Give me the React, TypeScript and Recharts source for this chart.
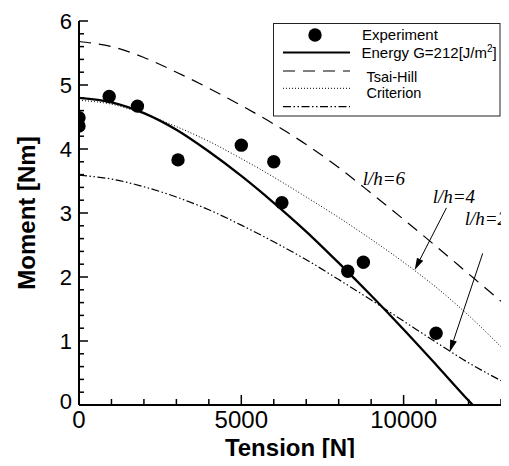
import React from 'react';
import {
  ComposedChart,
  Line,
  Scatter,
  XAxis,
  YAxis,
  ReferenceDot,
  ReferenceLine,
  Legend,
  Label,
} from 'recharts';

// ---------- data ----------
const tensionGrid = [0, 1000, 2000, 3000, 4000, 5000, 6000, 7000, 8000, 9000, 10000, 11000, 12000, 13000];
const energyTension = [0, 1000, 2000, 3000, 4000, 5000, 6000, 7000, 8000, 9000, 10000, 11000, 12000, 12130];
const energyMoment = [4.8, 4.73, 4.56, 4.3, 3.96, 3.58, 3.16, 2.71, 2.22, 1.71, 1.18, 0.63, 0.07, 0];
const tsaiHill6 = [5.68, 5.6, 5.43, 5.2, 4.95, 4.68, 4.39, 4.07, 3.71, 3.31, 2.9, 2.48, 2.05, 1.62];
const tsaiHill4 = [4.76, 4.7, 4.55, 4.35, 4.12, 3.85, 3.56, 3.25, 2.93, 2.59, 2.23, 1.84, 1.4, 0.91];
const tsaiHill2 = [3.59, 3.53, 3.41, 3.25, 3.05, 2.81, 2.55, 2.27, 1.96, 1.64, 1.31, 0.98, 0.66, 0.38];
const expTension = [0, 0, 930, 1800, 3050, 5000, 6000, 6250, 8280, 8760, 11000];
const expMoment = [4.49, 4.36, 4.82, 4.67, 3.83, 4.06, 3.8, 3.16, 2.09, 2.23, 1.12];

const xTicks = [0, 1000, 2000, 3000, 4000, 5000, 6000, 7000, 8000, 9000, 10000, 11000, 12000, 13000];
const xTickLabels = [0, 5000, 10000];
const yTicks = [0, 0.2, 0.4, 0.6, 0.8, 1, 1.2, 1.4, 1.6, 1.8, 2, 2.2, 2.4, 2.6, 2.8, 3, 3.2, 3.4, 3.6, 3.8, 4, 4.2, 4.4, 4.6, 4.8, 5, 5.2, 5.4, 5.6, 5.8, 6];
const yTickLabels = [0, 1, 2, 3, 4, 5, 6];

const annotationText = ['l/h=6', 'l/h=4', 'l/h=2'];
const annotationTension = [8740, 10897, 11880];
const annotationMoment = [3.43, 3.15, 2.81];
const arrowFromTension = [11319, 12437];
const arrowFromMoment = [3.08, 2.37];
const arrowToTension = [10340, 11420];
const arrowToMoment = [2.11, 0.83];

const seriesNames = ['Experiment', 'Energy G=212[J/m', 'Tsai-Hill', 'Criterion'];

// ---------- derived tables ----------
const energyData = energyTension.map((T, i) => ({ T, M: energyMoment[i] }));
const th6Data = tensionGrid.map((T, i) => ({ T, M: tsaiHill6[i] }));
const th4Data = tensionGrid.map((T, i) => ({ T, M: tsaiHill4[i] }));
const th2Data = tensionGrid.map((T, i) => ({ T, M: tsaiHill2[i] }));
const expData = expTension.map((T, i) => ({ T, M: expMoment[i] }));

const SANS = '"Liberation Sans", Arial, Helvetica, sans-serif';
const SERIF = '"Liberation Serif", "Times New Roman", serif';

const DASH = '12 8';
const DOT = '1 2';
const DASHDOT = '8 2.5 1.5 2.5 1.5 2.5';

const XTick = (p: any) => {
  const { x, y, payload } = p;
  const v = payload.value;
  const major = xTickLabels.includes(v);
  return (
    <g>
      <line x1={x} x2={x} y1={y} y2={y - (major ? 10 : 6)} stroke="#000" strokeWidth={1.5} />
      {major && (
        <text x={x} y={y + 23} textAnchor="middle" fontSize={24} fontFamily={SANS} fill="#000">
          {v}
        </text>
      )}
    </g>
  );
};

const YTick = (p: any) => {
  const { x, y, payload } = p;
  const v = payload.value;
  const major = yTickLabels.some((t) => Math.abs(t - v) < 1e-6);
  return (
    <g>
      <line x1={x} x2={x + (major ? 9 : 5)} y1={y} y2={y} stroke="#000" strokeWidth={1.5} />
      {major && (
        <text x={x - 7} y={y + (v === 0 ? 4 : 8)} textAnchor="end" fontSize={22} fontFamily={SANS} fill="#000">
          {Math.round(v)}
        </text>
      )}
    </g>
  );
};

const XTitle = (p: any) => {
  const vb = p.viewBox;
  return (
    <text x={vb.x + vb.width / 2} y={vb.y + 51} textAnchor="middle" fontSize={24} fontWeight="bold" fontFamily={SANS} fill="#000">
      Tension [N]
    </text>
  );
};

const YTitle = (p: any) => {
  const vb = p.viewBox;
  const cx = vb.x + 16;
  const cy = vb.y + vb.height / 2;
  return (
    <text x={cx} y={cy} transform={`rotate(-90, ${cx}, ${cy})`} textAnchor="middle" fontSize={24} fontWeight="bold" fontFamily={SANS} fill="#000">
      Moment [Nm]
    </text>
  );
};

const LegendBox = () => (
  <svg width={228} height={94} style={{ display: 'block' }}>
    <rect x={0.5} y={0.5} width={226.5} height={92.5} fill="#fff" stroke="#222" strokeWidth={1} />
    <circle cx={42} cy={12} r={6.7} fill="#000" />
    <text x={89} y={17} fontSize={15} fontFamily={SANS} fill="#000">{seriesNames[0]}</text>
    <line x1={10} x2={77} y1={29.5} y2={29.5} stroke="#000" strokeWidth={2} />
    <text x={88.5} y={35} fontSize={15} fontFamily={SANS} fill="#000">
      {seriesNames[1]}
      <tspan fontSize={10} dy={-6}>2</tspan>
      <tspan dy={6}>]</tspan>
    </text>
    <line x1={10} x2={77} y1={48} y2={48} stroke="#000" strokeWidth={1.2} strokeDasharray={DASH} />
    <text x={93.5} y={58.5} fontSize={14.5} fontFamily={SANS} fill="#000">{seriesNames[2]}</text>
    <line x1={10} x2={77} y1={65.3} y2={65.3} stroke="#000" strokeWidth={1} strokeDasharray={DOT} />
    <text x={93.5} y={74.5} fontSize={14.5} fontFamily={SANS} fill="#000">{seriesNames[3]}</text>
    <line x1={10} x2={77} y1={83.7} y2={83.7} stroke="#000" strokeWidth={1.2} strokeDasharray={DASHDOT} />
  </svg>
);

const ArrowShape = (p: any) => {
  const { x1, y1, x2, y2 } = p;
  if (x1 == null || x2 == null) return null;
  const dx = x2 - x1;
  const dy = y2 - y1;
  const len = Math.sqrt(dx * dx + dy * dy);
  const ux = dx / len;
  const uy = dy / len;
  const headLen = 12;
  const headW = 3.5;
  const bx = x2 - ux * headLen;
  const by = y2 - uy * headLen;
  const px = -uy;
  const py = ux;
  return (
    <g>
      <line x1={x1} y1={y1} x2={bx} y2={by} stroke="#000" strokeWidth={1} />
      <polygon
        points={`${x2},${y2} ${bx + px * headW},${by + py * headW} ${bx - px * headW},${by - py * headW}`}
        fill="#000"
      />
    </g>
  );
};

const AnnotationLabel = (text: string) => (p: any) => {
  const vb = p.viewBox;
  return (
    <text x={vb.x} y={vb.y} fontSize={19} fontStyle="italic" fontFamily={SERIF} fill="#000">
      {text}
    </text>
  );
};

export default function App() {
  return (
    <div style={{ margin: -8, width: 509, height: 466, background: '#fff', position: 'relative' }}>
      <ComposedChart width={509} height={466} margin={{ top: 21, right: 8, bottom: 6, left: 19 }}>
        <XAxis
          dataKey="T"
          type="number"
          domain={[0, 13000]}
          ticks={xTicks}
          interval={0}
          tickSize={0}
          tickMargin={0}
          tickLine={false}
          axisLine={{ stroke: '#000', strokeWidth: 2 }}
          tick={<XTick />}
          height={55}
          allowDataOverflow
        >
          <Label content={<XTitle />} />
        </XAxis>
        <YAxis
          dataKey="M"
          type="number"
          domain={[0, 6]}
          ticks={yTicks}
          interval={0}
          tickSize={0}
          tickMargin={0}
          tickLine={false}
          axisLine={{ stroke: '#000', strokeWidth: 2 }}
          tick={<YTick />}
          width={60}
          allowDataOverflow
        >
          <Label content={<YTitle />} />
        </YAxis>
        <Legend
          layout="horizontal"
          verticalAlign="middle"
          align="center"
          content={<LegendBox />}
          wrapperStyle={{ position: 'absolute', left: 273, top: 23, width: 228, height: 94 }}
        />
        <Line data={th6Data} dataKey="M" type="monotone" stroke="#000" strokeWidth={1.2} strokeDasharray={DASH} dot={false} activeDot={false} isAnimationActive={false} legendType="none" />
        <Line data={th4Data} dataKey="M" type="monotone" stroke="#000" strokeWidth={1} strokeDasharray={DOT} dot={false} activeDot={false} isAnimationActive={false} legendType="none" />
        <Line data={th2Data} dataKey="M" type="monotone" stroke="#000" strokeWidth={1.2} strokeDasharray={DASHDOT} dot={false} activeDot={false} isAnimationActive={false} legendType="none" />
        <Line data={energyData} dataKey="M" type="monotone" stroke="#000" strokeWidth={2.3} dot={false} activeDot={false} isAnimationActive={false} legendType="none" />
        <Scatter
          data={expData}
          dataKey="M"
          isAnimationActive={false}
          legendType="none"
          shape={(p: any) => <circle cx={p.cx} cy={p.cy} r={6.7} fill="#000" />}
        />
        {arrowFromTension.map((t, i) => (
          <ReferenceLine
            key={`arrow-${i}`}
            segment={[
              { x: t, y: arrowFromMoment[i] },
              { x: arrowToTension[i], y: arrowToMoment[i] },
            ]}
            stroke="#000"
            shape={ArrowShape}
            ifOverflow="visible"
          />
        ))}
        {annotationText.map((txt, i) => (
          <ReferenceDot
            key={`ann-${i}`}
            x={annotationTension[i]}
            y={annotationMoment[i]}
            r={0}
            fill="none"
            stroke="none"
            ifOverflow="visible"
            label={{ content: AnnotationLabel(txt) }}
          />
        ))}
      </ComposedChart>
    </div>
  );
}
